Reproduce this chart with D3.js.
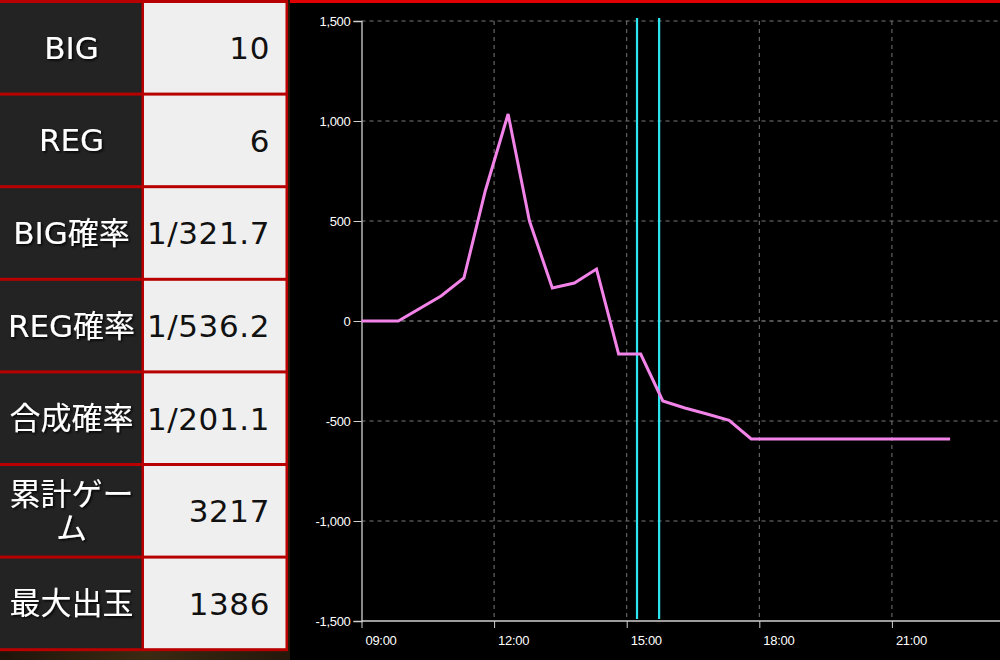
<!DOCTYPE html>
<html lang="ja">
<head>
<meta charset="utf-8">
<title>BIG / REG 差枚グラフ</title>
<script src="https://cdnjs.cloudflare.com/ajax/libs/d3/7.8.5/d3.min.js"></script>
<style>
    html, body { margin: 0; padding: 0; background: #000; }
    svg { display: block; }
</style>
</head>
<body>
<div id="graphContent"></div>
<script>
    // table data
    var tableLabels = ["BIG", "REG", "BIG確率", "REG確率", "合成確率", "累計ゲーム", "最大出玉"];
    var tableValues = ["10", "6", "1/321.7", "1/536.2", "1/201.1", "3217", "1386"];

    // slump graph (time, difference in medals)
    var times = ["09:00", "09:50", "10:48", "11:19", "11:48", "12:19", "12:48", "13:19", "13:49", "14:19",
        "14:49", "15:19", "15:49", "16:19", "16:49", "17:19", "17:49", "22:19"];
    var values = [0, 0, 125, 215, 650, 1035, 500, 165, 190, 260,
        -165, -165, -400, -435, -465, -497, -590, -590];

    // bonus markers
    var markerTimes = ["15:14", "15:44"];

    var yTicks = [-1500, -1000, -500, 0, 500, 1000, 1500];
    var xTicks = ["09:00", "12:00", "15:00", "18:00", "21:00"];

    var W = 1000, H = 660;
    var parseTime = d3.timeParse("%H:%M");
    var fmt = d3.formatLocale({decimal: ".", thousands: ",", grouping: [3], currency: ["", ""], minus: "-"}).format(",");

    var svg = d3.select("#graphContent").append("svg")
        .attr("width", W)
        .attr("height", H);

    var defs = svg.append("defs");
    defs.append("filter").attr("id", "shadow")
        .attr("x", "-20%").attr("y", "-20%").attr("width", "140%").attr("height", "140%")
        .append("feDropShadow")
        .attr("dx", 1.5).attr("dy", 1.5).attr("stdDeviation", 1)
        .attr("flood-color", "#000").attr("flood-opacity", 0.9);

    var tex = defs.append("linearGradient").attr("id", "tex").attr("x1", 0).attr("x2", 1);
    tex.append("stop").attr("offset", "0%").attr("stop-color", "#1d140a");
    tex.append("stop").attr("offset", "50%").attr("stop-color", "#3b2a12");
    tex.append("stop").attr("offset", "100%").attr("stop-color", "#24180b");

    // ---- left table ----
    svg.append("rect").attr("x", 0).attr("y", 0).attr("width", 290).attr("height", H).attr("fill", "url(#tex)");

    var rowTop = 3, rowH = 92.6, tableW = 288, colSplit = 143;
    var table = svg.append("g");

    table.append("rect")
        .attr("x", 0).attr("y", 0)
        .attr("width", tableW).attr("height", rowTop + rowH * tableLabels.length)
        .attr("fill", "#b80000");

    var rows = table.selectAll("g.row").data(tableLabels).enter().append("g")
        .attr("class", "row")
        .attr("transform", function (d, i) { return "translate(0," + (rowTop + i * rowH) + ")"; });

    rows.append("rect")
        .attr("x", 0).attr("y", 0)
        .attr("width", colSplit - 1.5).attr("height", rowH - 3)
        .attr("fill", "#232323");

    rows.append("rect")
        .attr("x", colSplit + 1).attr("y", 0)
        .attr("width", tableW - colSplit - 3.5).attr("height", rowH - 3)
        .attr("fill", "#efefef");

    var labelText = rows.append("text")
        .attr("x", colSplit / 2)
        .attr("text-anchor", "middle")
        .attr("fill", "#fff")
        .attr("filter", "url(#shadow)")
        .style("font-family", "'DejaVu Sans', 'Noto Sans CJK JP', sans-serif")
        .style("font-size", "31px");

    // wrap labels that do not fit in the cell
    labelText.each(function (d) {
        var t = d3.select(this);
        var lines = [], cur = "";
        var probe = t.append("tspan");
        for (var k = 0; k < d.length; k++) {
            probe.text(cur + d[k]);
            if (probe.node().getComputedTextLength() > 136 && cur.length) {
                lines.push(cur);
                cur = d[k];
            } else {
                cur += d[k];
            }
        }
        lines.push(cur);
        probe.remove();
        var mid = (rowH - 3) / 2, lh = 34;
        lines.forEach(function (ln, j) {
            t.append("tspan")
                .attr("x", colSplit / 2)
                .attr("y", mid + 11 + (j - (lines.length - 1) / 2) * lh)
                .text(ln);
        });
    });

    rows.append("text")
        .attr("x", 270)
        .attr("y", (rowH - 3) / 2 + 11.5)
        .attr("text-anchor", "end")
        .attr("fill", "#111")
        .style("font-family", "'DejaVu Sans', sans-serif")
        .style("font-size", "31px")
        .style("letter-spacing", "0.6px")
        .text(function (d, i) { return tableValues[i]; });

    // ---- chart panel ----
    svg.append("rect").attr("x", 290).attr("y", 0).attr("width", W - 290).attr("height", H).attr("fill", "#000");
    svg.append("rect").attr("x", 290).attr("y", 0).attr("width", W - 290).attr("height", 3).attr("fill", "#e00000");

    var x = d3.scaleTime()
        .domain([parseTime("09:00"), parseTime("23:24")])
        .range([361.5, 998]);

    var y = d3.scaleLinear()
        .domain([-1500, 1500])
        .range([621, 21]);

    var chart = svg.append("g");

    // grid
    chart.selectAll("line.hgrid").data(yTicks.filter(function (d) { return d > -1500; })).enter().append("line")
        .attr("class", "hgrid")
        .attr("x1", x.range()[0]).attr("x2", W)
        .attr("y1", function (d) { return y(d); }).attr("y2", function (d) { return y(d); })
        .attr("stroke", function (d) { return d === 0 ? "#a8a8a8" : "#777"; })
        .attr("stroke-dasharray", "4,4");

    chart.selectAll("line.vgrid").data(xTicks.slice(1)).enter().append("line")
        .attr("class", "vgrid")
        .attr("x1", function (d) { return x(parseTime(d)); }).attr("x2", function (d) { return x(parseTime(d)); })
        .attr("y1", y(1500)).attr("y2", y(-1500))
        .attr("stroke", "#777")
        .attr("stroke-dasharray", "4,4");

    // axes
    var yAxis = chart.append("g")
        .attr("transform", "translate(" + x.range()[0] + ",0)")
        .call(d3.axisLeft(y).tickValues(yTicks).tickSize(8).tickPadding(3).tickFormat(fmt));

    var xAxis = chart.append("g")
        .attr("transform", "translate(0," + y(-1500) + ")")
        .call(d3.axisBottom(x).tickValues(xTicks.map(parseTime)).tickSize(7).tickFormat(d3.timeFormat("%H:%M")));

    xAxis.select(".domain").attr("d", "M" + x.range()[0] + ",0H" + W);

    [yAxis, xAxis].forEach(function (a) {
        a.select(".domain").attr("stroke", "#d0d0d0").attr("stroke-width", 1.3);
        a.selectAll(".tick line").attr("stroke", "#d0d0d0");
        a.selectAll(".tick text")
            .attr("fill", "#fff")
            .style("font-family", "'Liberation Sans', Arial, sans-serif")
            .style("font-size", "13px")
            .style("letter-spacing", "-0.3px");
    });

    xAxis.selectAll(".tick text")
        .attr("text-anchor", "start")
        .attr("x", 3.5)
        .attr("y", 15);

    // bonus markers
    chart.selectAll("line.marker").data(markerTimes).enter().append("line")
        .attr("class", "marker")
        .attr("x1", function (d) { return x(parseTime(d)); }).attr("x2", function (d) { return x(parseTime(d)); })
        .attr("y1", 18).attr("y2", 619)
        .attr("stroke", "#2ee6f2")
        .attr("stroke-width", 2.2);

    // slump line
    var line = d3.line()
        .x(function (d, i) { return x(parseTime(times[i])); })
        .y(function (d) { return y(d); });

    chart.append("path")
        .datum(values)
        .attr("d", line)
        .attr("fill", "none")
        .attr("stroke", "#f283e8")
        .attr("stroke-width", 3)
        .attr("stroke-linejoin", "miter");
</script>
</body>
</html>
